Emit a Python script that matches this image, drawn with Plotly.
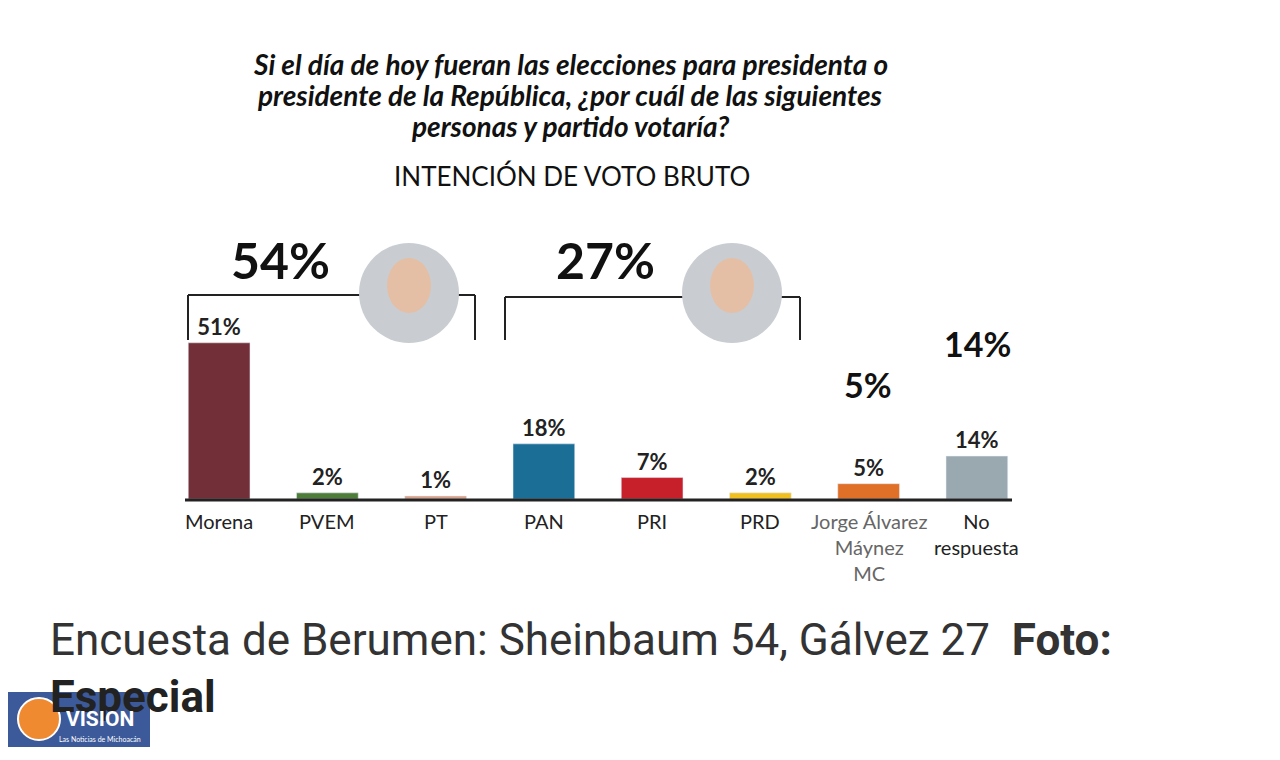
import plotly.graph_objects as go

cats = ["Morena", "PVEM", "PT", "PAN", "PRI", "PRD", "MC", "No respuesta"]
labels = ["Morena", "PVEM", "PT", "PAN", "PRI", "PRD", "Jorge Álvarez<br>Máynez<br>MC", "No<br>respuesta"]
values = [51, 2, 1, 18, 7, 2, 5, 14]
colors = ["#722F37", "#4E7D3A", "#D9A08A", "#1B6F97", "#C8202A", "#F0C020", "#E07028", "#9AA8B0"]
label_colors = ["#222"] * 6 + ["#666", "#222"]

W, H = 1280, 760
OX, OY = 8, 8
def px(x): return (x - OX) / W
def py(y): return 1 - (y - OY) / H

fig = go.Figure(go.Bar(x=cats, y=values, marker_color=colors, width=0.57,
                       text=[f"<b>{v}%</b>" for v in values], textposition="outside",
                       textfont=dict(size=22, color="#222", family="Lato"),
                       cliponaxis=False, hoverinfo="skip"))

fig.update_layout(
    width=W, height=H, margin=dict(l=0, r=0, t=0, b=0),
    paper_bgcolor="white", plot_bgcolor="white", showlegend=False,
    font=dict(family="Lato"),
    xaxis=dict(domain=[px(165), px(1031)], showticklabels=False, showgrid=False, showline=False),
    yaxis=dict(domain=[py(499), py(254)], range=[0, 80], visible=False),
)

ann = []
def A(x, y, text, size, color="#111", family="Lato", xanchor="center", yanchor="middle"):
    ann.append(dict(x=px(x), y=py(y), xref="paper", yref="paper", text=text, showarrow=False,
                    xanchor=xanchor, yanchor=yanchor, font=dict(size=size, color=color, family=family)))

for c, l, lc in zip(cats, labels, label_colors):
    ann.append(dict(x=c, y=py(507), xref="x", yref="paper", text=l, showarrow=False,
                    xanchor="center", yanchor="top", font=dict(size=20, color=lc, family="Lato")))
title = ["<b><i>Si el día de hoy fueran las elecciones para presidenta o</i></b>",
         "<b><i>presidente de la República, ¿por cuál de las siguientes</i></b>",
         "<b><i>personas y partido votaría?</i></b>"]
for i, t in enumerate(title):
    A(570, 64 + 31 * i, t, 28)
A(572, 176, "INTENCIÓN DE VOTO BRUTO", 26)
for t, x, y, s in [("54%", 280, 260, 50), ("27%", 605, 260, 50), ("5%", 868, 385, 34), ("14%", 977, 343, 34)]:
    A(x, y, f"<b>{t}</b>", s)
A(48, 640, "Encuesta de Berumen: Sheinbaum 54, Gálvez 27  <b>Foto:</b>", 44, "#333", "Roboto", "left")
A(48, 697, "<b>Especial</b>", 44, "#222", "Roboto", "left")
A(100, 719, "<b>VISION</b>", 21, "white", "Roboto")
A(100, 739, "Las Noticias de Michoacán", 7, "white")

shapes = []
def line(x0, y0, x1, y1, w=2):
    shapes.append(dict(type="line", xref="paper", yref="paper", x0=px(x0), y0=py(y0),
                       x1=px(x1), y1=py(y1), line=dict(color="#222", width=w)))
line(185, 500, 1012, 500, 3)
line(188, 295, 188, 340); line(188, 295, 365, 295); line(450, 295, 475, 295); line(475, 295, 475, 340)
line(505, 297, 505, 340); line(505, 297, 688, 297); line(778, 297, 800, 297); line(800, 297, 800, 340)
for cx, cy in [(409, 293), (732, 293)]:
    shapes.append(dict(type="circle", xref="paper", yref="paper", x0=px(cx - 50), x1=px(cx + 50),
                       y0=py(cy - 50), y1=py(cy + 50), fillcolor="#C9CDD2", line=dict(width=0)))
    shapes.append(dict(type="circle", xref="paper", yref="paper", x0=px(cx - 22), x1=px(cx + 22),
                       y0=py(cy - 35), y1=py(cy + 20), fillcolor="#E4BFA5", line=dict(width=0)))
shapes.append(dict(type="rect", xref="paper", yref="paper", x0=px(8), x1=px(150), y0=py(692), y1=py(747),
                   fillcolor="#3C5A9A", line=dict(width=0), layer="below"))
shapes.append(dict(type="circle", xref="paper", yref="paper", x0=px(18), x1=px(60), y0=py(698), y1=py(740),
                   fillcolor="#F08A30", line=dict(color="white", width=2)))
fig.update_layout(annotations=ann, shapes=shapes)
fig.write_html("out.html")
